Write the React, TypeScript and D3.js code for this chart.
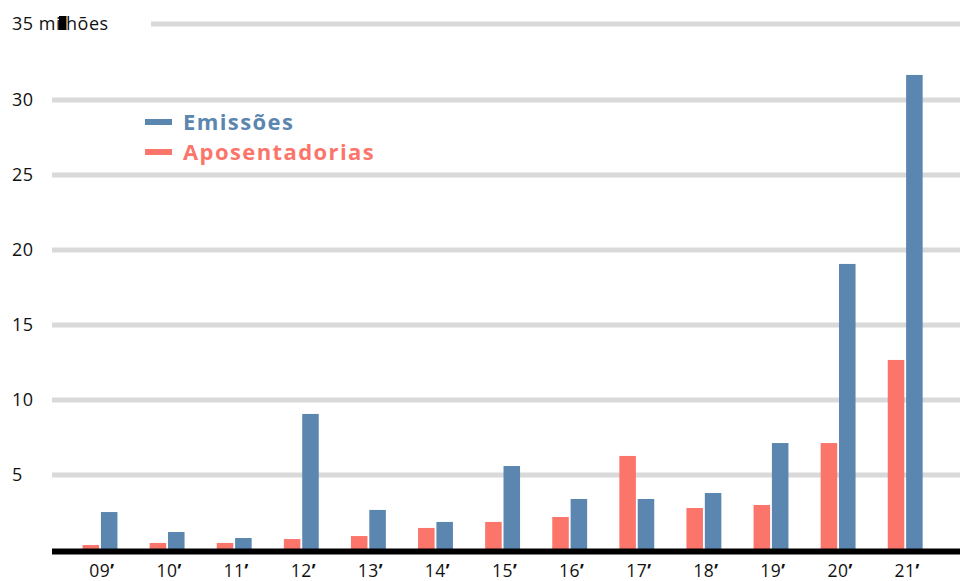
import React from "react";
import * as d3 from "d3";

const years = ["09", "10", "11", "12", "13", "14", "15", "16", "17", "18", "19", "20", "21"];
const aposentadorias = [0.33, 0.47, 0.47, 0.73, 0.93, 1.47, 1.87, 2.2, 6.27, 2.8, 3.0, 7.13, 12.67];
const emissoes = [2.53, 1.2, 0.8, 9.07, 2.67, 1.87, 5.6, 3.4, 3.4, 3.8, 7.13, 19.07, 31.67];
const yTicks = [5, 10, 15, 20, 25, 30];
const seriesKeys = ["aposentadorias", "emissoes"];
const seriesLabels = ["Emissões", "Aposentadorias"];

const W = 960;
const H = 581;
const BLUE = "#5b86b0";
const RED = "#fc756b";
const GRID = "#d9d9d9";
const FONT = "'Open Sans', 'Noto Sans', sans-serif";

export default function App() {
  const y = d3.scaleLinear().domain([0, 35]).range([550, 25]);
  const step = 67.1;
  const x = d3
    .scaleBand<string>()
    .domain(years)
    .range([100 - step / 2, 100 - step / 2 + step * years.length])
    .paddingInner(0.48)
    .paddingOuter(0.24);
  const inner = d3.scaleBand<string>().domain(seriesKeys).range([0, x.bandwidth()]).paddingInner(0.1);
  const values: Record<string, number[]> = { aposentadorias, emissoes };
  const colors: Record<string, string> = { aposentadorias: RED, emissoes: BLUE };

  return (
    <svg width={W} height={H} style={{ position: "absolute", left: 0, top: 0 }} fontFamily={FONT}>
      <rect width={W} height={H} fill="#fff" />
      {/* gridlines */}
      {yTicks.map((t) => (
        <line key={t} x1={52} x2={W} y1={y(t)} y2={y(t)} stroke={GRID} strokeWidth={5} />
      ))}
      <line x1={151} x2={W} y1={y(35) - 1} y2={y(35) - 1} stroke={GRID} strokeWidth={5} />
      {/* y labels */}
      {yTicks.map((t) => (
        <text key={t} x={12} y={y(t)} dy="0.35em" fontSize={18} letterSpacing={0.5} fill="#111">
          {t}
        </text>
      ))}
      <text x={12} y={y(35) - 1} dy="0.35em" fontSize={18} letterSpacing={0.5} fill="#111">
        35 milhões
      </text>
      <rect x={59} y={16} width={7.5} height={14} fill="#000" />
      {/* bars */}
      {years.map((yr, i) => (
        <g key={yr} transform={`translate(${x(yr)},0)`}>
          {seriesKeys.map((k) => (
            <rect
              key={k}
              x={inner(k)}
              y={y(values[k][i])}
              width={inner.bandwidth()}
              height={y(0) - y(values[k][i])}
              fill={colors[k]}
            />
          ))}
        </g>
      ))}
      {/* baseline */}
      <line x1={52} x2={W} y1={551.5} y2={551.5} stroke="#000" strokeWidth={6} />
      {/* x labels */}
      {years.map((yr) => (
        <text
          key={yr}
          x={(x(yr) as number) + x.bandwidth() / 2 + 2}
          y={577}
          textAnchor="middle"
          fontSize={17.5}
          letterSpacing={0.5}
          fill="#111"
        >
          {yr}
          <tspan fontWeight="bold">’</tspan>
        </text>
      ))}
      {/* legend */}
      {seriesLabels.map((lab, i) => (
        <g key={lab} transform={`translate(145,${122 + i * 30})`}>
          <rect x={0} y={-3} width={27} height={6} fill={i === 0 ? BLUE : RED} />
          <text
            x={38}
            y={0}
            dy="0.35em"
            fontSize={22}
            letterSpacing={1.4}
            fontWeight="bold"
            fill={i === 0 ? BLUE : RED}
          >
            {lab}
          </text>
        </g>
      ))}
    </svg>
  );
}
